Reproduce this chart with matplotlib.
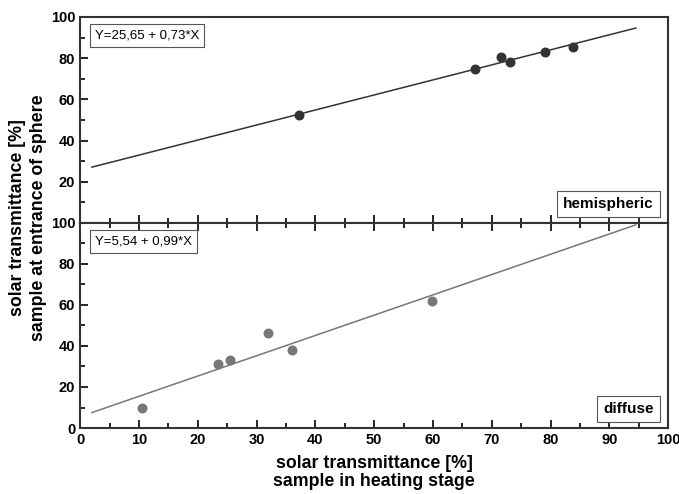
import matplotlib
matplotlib.use("Agg")
import matplotlib.pyplot as plt
import numpy as np
from matplotlib.ticker import MultipleLocator

plt.rcParams["font.family"] = ["Liberation Sans", "DejaVu Sans"]
plt.rcParams["font.weight"] = "bold"

# hemispheric measurements
hemi_x = [37.3, 67.2, 71.5, 73.1, 79.1, 83.9]
hemi_y = [52.4, 74.6, 80.4, 78.2, 83.2, 85.4]
hemi_fit = (25.65, 0.73)
hemi_label = "Y=25,65 + 0,73*X"

# diffuse measurements
diff_x = [10.5, 23.5, 25.5, 31.9, 36.1, 59.8]
diff_y = [9.9, 31.0, 33.0, 46.5, 37.9, 62.1]
diff_fit = (5.54, 0.99)
diff_label = "Y=5,54 + 0,99*X"

fit_range = (2, 94.5)

fig = plt.figure(figsize=(6.79, 4.94), dpi=100)
ax_top = fig.add_axes([0.118, 0.5486, 0.866, 0.417])
ax_bot = fig.add_axes([0.118, 0.1336, 0.866, 0.415])


def style(ax, top_ticks):
    ax.set_xlim(0, 100)
    ax.set_ylim(0, 100)
    ax.xaxis.set_major_locator(MultipleLocator(10))
    ax.xaxis.set_minor_locator(MultipleLocator(5))
    ax.yaxis.set_major_locator(MultipleLocator(20))
    ax.yaxis.set_minor_locator(MultipleLocator(10))
    ax.tick_params(which="both", direction="in", width=1.2, top=top_ticks,
                   right=False, labelsize=10.5)
    ax.tick_params(which="major", length=6)
    ax.tick_params(which="minor", length=3.5)
    for s in ax.spines.values():
        s.set_linewidth(1.5)
        s.set_color("#333333")
    for lbl in ax.get_xticklabels() + ax.get_yticklabels():
        lbl.set_fontweight("bold")


xs = np.array(fit_range)
box = dict(boxstyle="square,pad=0.4", fc="white", ec="#555555", lw=0.8)

style(ax_top, False)
ax_top.plot(xs, hemi_fit[0] + hemi_fit[1] * xs, color="#333333", lw=1.1)
ax_top.scatter(hemi_x, hemi_y, s=38, color="#333333", zorder=3)
ax_top.set_yticks([20, 40, 60, 80, 100])
ax_top.tick_params(axis="x", labelbottom=False)
for lbl in ax_top.get_yticklabels():
    lbl.set_fontweight("bold")
ax_top.text(0.025, 0.94, hemi_label, transform=ax_top.transAxes, fontsize=9.5,
            fontweight="normal", va="top", ha="left", bbox=box)
ax_top.text(0.975, 0.06, "hemispheric", transform=ax_top.transAxes, fontsize=11,
            fontweight="bold", va="bottom", ha="right", bbox=box)

style(ax_bot, True)
ax_bot.plot(xs, diff_fit[0] + diff_fit[1] * xs, color="#777777", lw=1.1)
ax_bot.scatter(diff_x, diff_y, s=38, color="#777777", zorder=3)
ax_bot.text(0.025, 0.94, diff_label, transform=ax_bot.transAxes, fontsize=9.5,
            fontweight="normal", va="top", ha="left", bbox=box)
ax_bot.text(0.975, 0.06, "diffuse", transform=ax_bot.transAxes, fontsize=11,
            fontweight="bold", va="bottom", ha="right", bbox=box)
ax_bot.set_xlabel("solar transmittance [%]\nsample in heating stage",
                  fontsize=12.8, fontweight="bold", linespacing=1.1, labelpad=6)

fig.text(0.041, 0.56, "solar transmittance [%]\nsample at entrance of sphere",
         rotation=90, ha="center", va="center", fontsize=12.8, fontweight="bold",
         linespacing=1.3)

fig.savefig("out.png", dpi=100)
